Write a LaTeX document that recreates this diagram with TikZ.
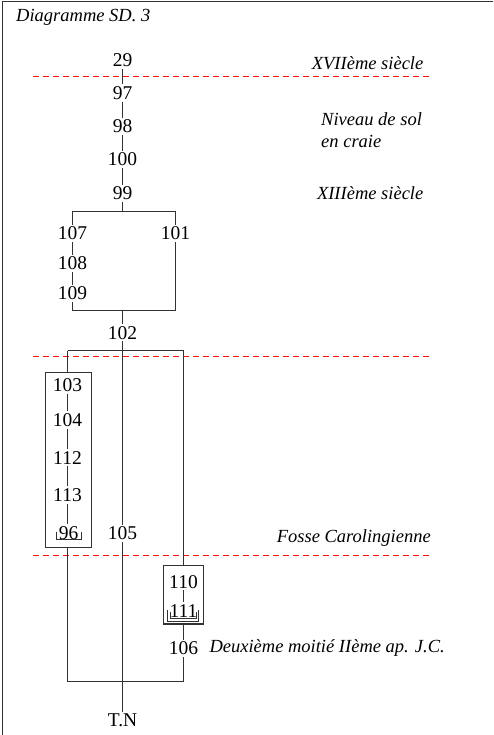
\documentclass[tikz,border=0pt]{standalone}
\usepackage{fontspec}
\setmainfont{Liberation Serif}
\usepackage{tikz}
\usetikzlibrary{calc}
\definecolor{linkgray}{RGB}{50,50,50}
\definecolor{limitred}{RGB}{245,20,20}
\tikzset{
  unit/.style={font=\fontsize{19.5}{22}\selectfont, inner sep=2pt},
  link/.style={linkgray, line width=1.6pt},
  groupbox/.style={draw=linkgray, line width=1.2pt, inner sep=0pt},
  brack/.style={linkgray, line width=0.9pt},
  limit/.style={limitred, line width=1.5pt, dash pattern=on 6pt off 4pt},
  period/.style={font=\fontsize{18.5}{22.7}\selectfont\itshape, inner sep=0pt},
}

\begin{document}
\begin{tikzpicture}[x=1pt, y=-1pt]
  \useasboundingbox (0,0) rectangle (493,735);
  % frame and title
  \draw[linkgray, line width=1.5pt] (2.5,735) -- (2.5,1.5) -- (493,1.5);
  \node[period, anchor=base west] (title) at (16,21.5) {Diagramme SD. 3};

  % period limits
  \foreach \yl/\xe in {76.5/432, 356.5/432, 555.5/430}{
    \draw[limit] (33,\yl) -- (\xe,\yl);
  }

  % period labels
  \node[period, anchor=base east] (p17) at (423.5,69.3) {XVIIème siècle};
  \node[period, anchor=north west, align=left] (psol) at (321,112)
    {Niveau de sol\\en craie};
  \node[period, anchor=base east] (p13) at (423.5,200) {XIIIème siècle};
  \node[period, anchor=base east] (pfosse) at (431,542.7) {Fosse Carolingienne};
  \node[period, anchor=base west] (p2) at (209.3,652.7)
    {Deuxième moitié IIème ap. J.C.};

  % Upper sequence
  \node[unit] (n29) at (122.5,60) {29};
  \node[unit] (n97) at (122.5,93) {97};
  \node[unit] (n98) at (122.5,126.5) {98};
  \node[unit] (n100) at (122.5,159.5) {100};
  \node[unit] (n99) at (122.5,193.5) {99};
  \draw[link] (n29) -- (n97) -- (n98) -- (n100) -- (n99);

  % split below 99
  \coordinate (forkT) at (122.5,211.5);
  \coordinate (forkTL) at (72.5,211.5);
  \coordinate (forkTR) at (175.5,211.5);
  \node[unit] (n107) at (72.5,233.3) {107};
  \node[unit] (n108) at (72.5,263.3) {108};
  \node[unit] (n109) at (72.5,293.3) {109};
  \node[unit] (n101) at (175.5,233.3) {101};
  \node[unit] (n102) at (122.5,332.7) {102};
  \coordinate (joinB) at (122.5,310.5);
  \coordinate (joinBL) at (72.5,310.5);
  \coordinate (joinBR) at (175.5,310.5);
  \draw[link] (n99) -- (forkT);
  \draw[link] (n107) -- (forkTL) -- (forkTR) -- (n101);
  \draw[link] (n107) -- (n108) -- (n109) -- (joinBL) -- (joinBR) -- (n101);
  \draw[link] (joinB) -- (n102);

  % split below 102
  \coordinate (forkL) at (67.5,350.5);
  \coordinate (forkR) at (183.5,350.5);
  \draw[link] (forkL) -- (forkR);
  \node[unit] (n105) at (122.5,533.3) {105};
  \draw[link] (n102) -- (n105);

  % left group
  \node[groupbox, minimum width=45.6pt, minimum height=175.4pt] (boxA)
    at (68.5,460) {};
  \node[unit] (n103) at (67.5,385) {103};
  \node[unit] (n104) at (67.5,420) {104};
  \node[unit] (n112) at (67.5,457.7) {112};
  \node[unit] (n113) at (67.5,495) {113};
  \node[unit] (n96) at (68.5,532.7) {96};
  \draw[link] (forkL) -- (forkL |- boxA.north);
  \draw[link] (n103) -- (n104) -- (n112) -- (n113) -- (n96.north -| n113);
  \draw[brack] ($(n96.center)+(-11.8,-1)$) |- ($(n96.center)+(12.5,6.5)$)
    -- ++(0,-7.5);

  % right group
  \node[groupbox, minimum width=40pt, minimum height=58.3pt] (boxB)
    at (183.5,594.9) {};
  \node[unit] (n110) at (183.5,581.7) {110};
  \node[unit] (n111) at (183.5,611) {111};
  \draw[link] (n110) -- (n111);
  \draw[brack] ($(n111.center)+(-15.6,-1)$) |- ($(n111.center)+(15.4,10)$)
    -- ++(0,-11);
  \draw[brack] ($(n111.center)+(-13.3,0.7)$) |- ($(n111.center)+(12.7,7.7)$)
    -- ++(0,-7);
  \node[unit] (n106) at (183.5,648.3) {106};
  \draw[link] (forkR) -- (boxB.north);
  \draw[link] (boxB.south) -- (n106);

  % join at the bottom
  \coordinate (joinL) at (67.5,681.5);
  \coordinate (joinR) at (183.5,681.5);
  \node[unit] (nTN) at (122.5,720.7) {T.N};
  \draw[link] (boxA.south -| forkL) -- (joinL) -- (joinR) -- (n106);
  \draw[link] (n105) -- (nTN);
\end{tikzpicture}
\end{document}
